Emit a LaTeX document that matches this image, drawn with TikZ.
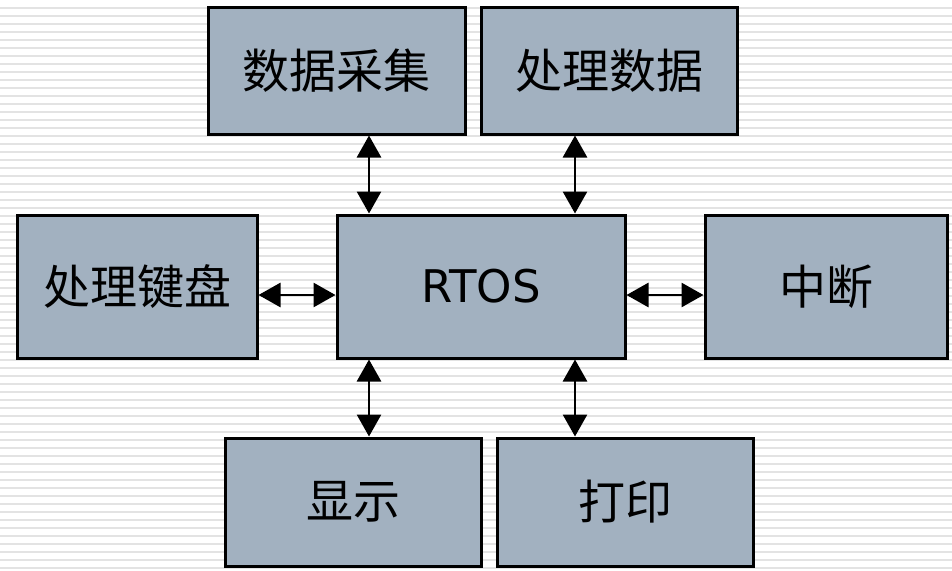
\documentclass[tikz,border=0pt]{standalone}
\usepackage{fontspec}
\newfontfamily\cjk{Noto Sans CJK SC}
\newfontfamily\latinsans{DejaVu Sans}
\usetikzlibrary{arrows.meta}
\definecolor{boxfill}{HTML}{A2B1C0}
\definecolor{stripe}{HTML}{E3E3E3}
\begin{document}
\begin{tikzpicture}[x=1pt,y=-1pt,
  box/.style={draw=black,line width=3pt,fill=boxfill,inner sep=0pt,font=\cjk\fontsize{47}{52}\selectfont},
  link/.style={line width=2.8pt,{Triangle[length=22pt,width=24pt]}-{Triangle[length=22pt,width=24pt]}}]
\useasboundingbox (0,0) rectangle (952,570);
\fill[white] (0,0) rectangle (952,570);
\foreach \k in {0,...,70} {
  \draw[stripe,line width=2pt] (0,{7.5+8*\k}) -- (952,{7.5+8*\k});
}
\node[box,minimum width=257pt,minimum height=127pt] (caiji) at (336.5,70.5) {数据采集};
\node[box,minimum width=256pt,minimum height=127pt] (chuli) at (609,70.5) {处理数据};
\node[box,minimum width=240pt,minimum height=143pt] (jianpan) at (137,286.5) {处理键盘};
\node[box,minimum width=288pt,minimum height=143pt,font=\latinsans\fontsize{45}{50}\selectfont] (rtos) at (481,286.5) {RTOS};
\node[box,minimum width=242pt,minimum height=143pt] (zhongduan) at (826,286.5) {中断};
\node[box,minimum width=256pt,minimum height=128pt] (xianshi) at (353,502) {显示};
\node[box,minimum width=256pt,minimum height=128pt] (dayin) at (625,502) {打印};
\draw[link] (caiji.south -| 369,0) -- (rtos.north -| 369,0);
\draw[link] (chuli.south -| 575,0) -- (rtos.north -| 575,0);
\draw[link] (rtos.south -| 369,0) -- (xianshi.north -| 369,0);
\draw[link] (rtos.south -| 575,0) -- (dayin.north -| 575,0);
\draw[link] (jianpan.east |- 0,295) -- (rtos.west |- 0,295);
\draw[link] (rtos.east |- 0,295) -- (zhongduan.west |- 0,295);
\end{tikzpicture}
\end{document}
